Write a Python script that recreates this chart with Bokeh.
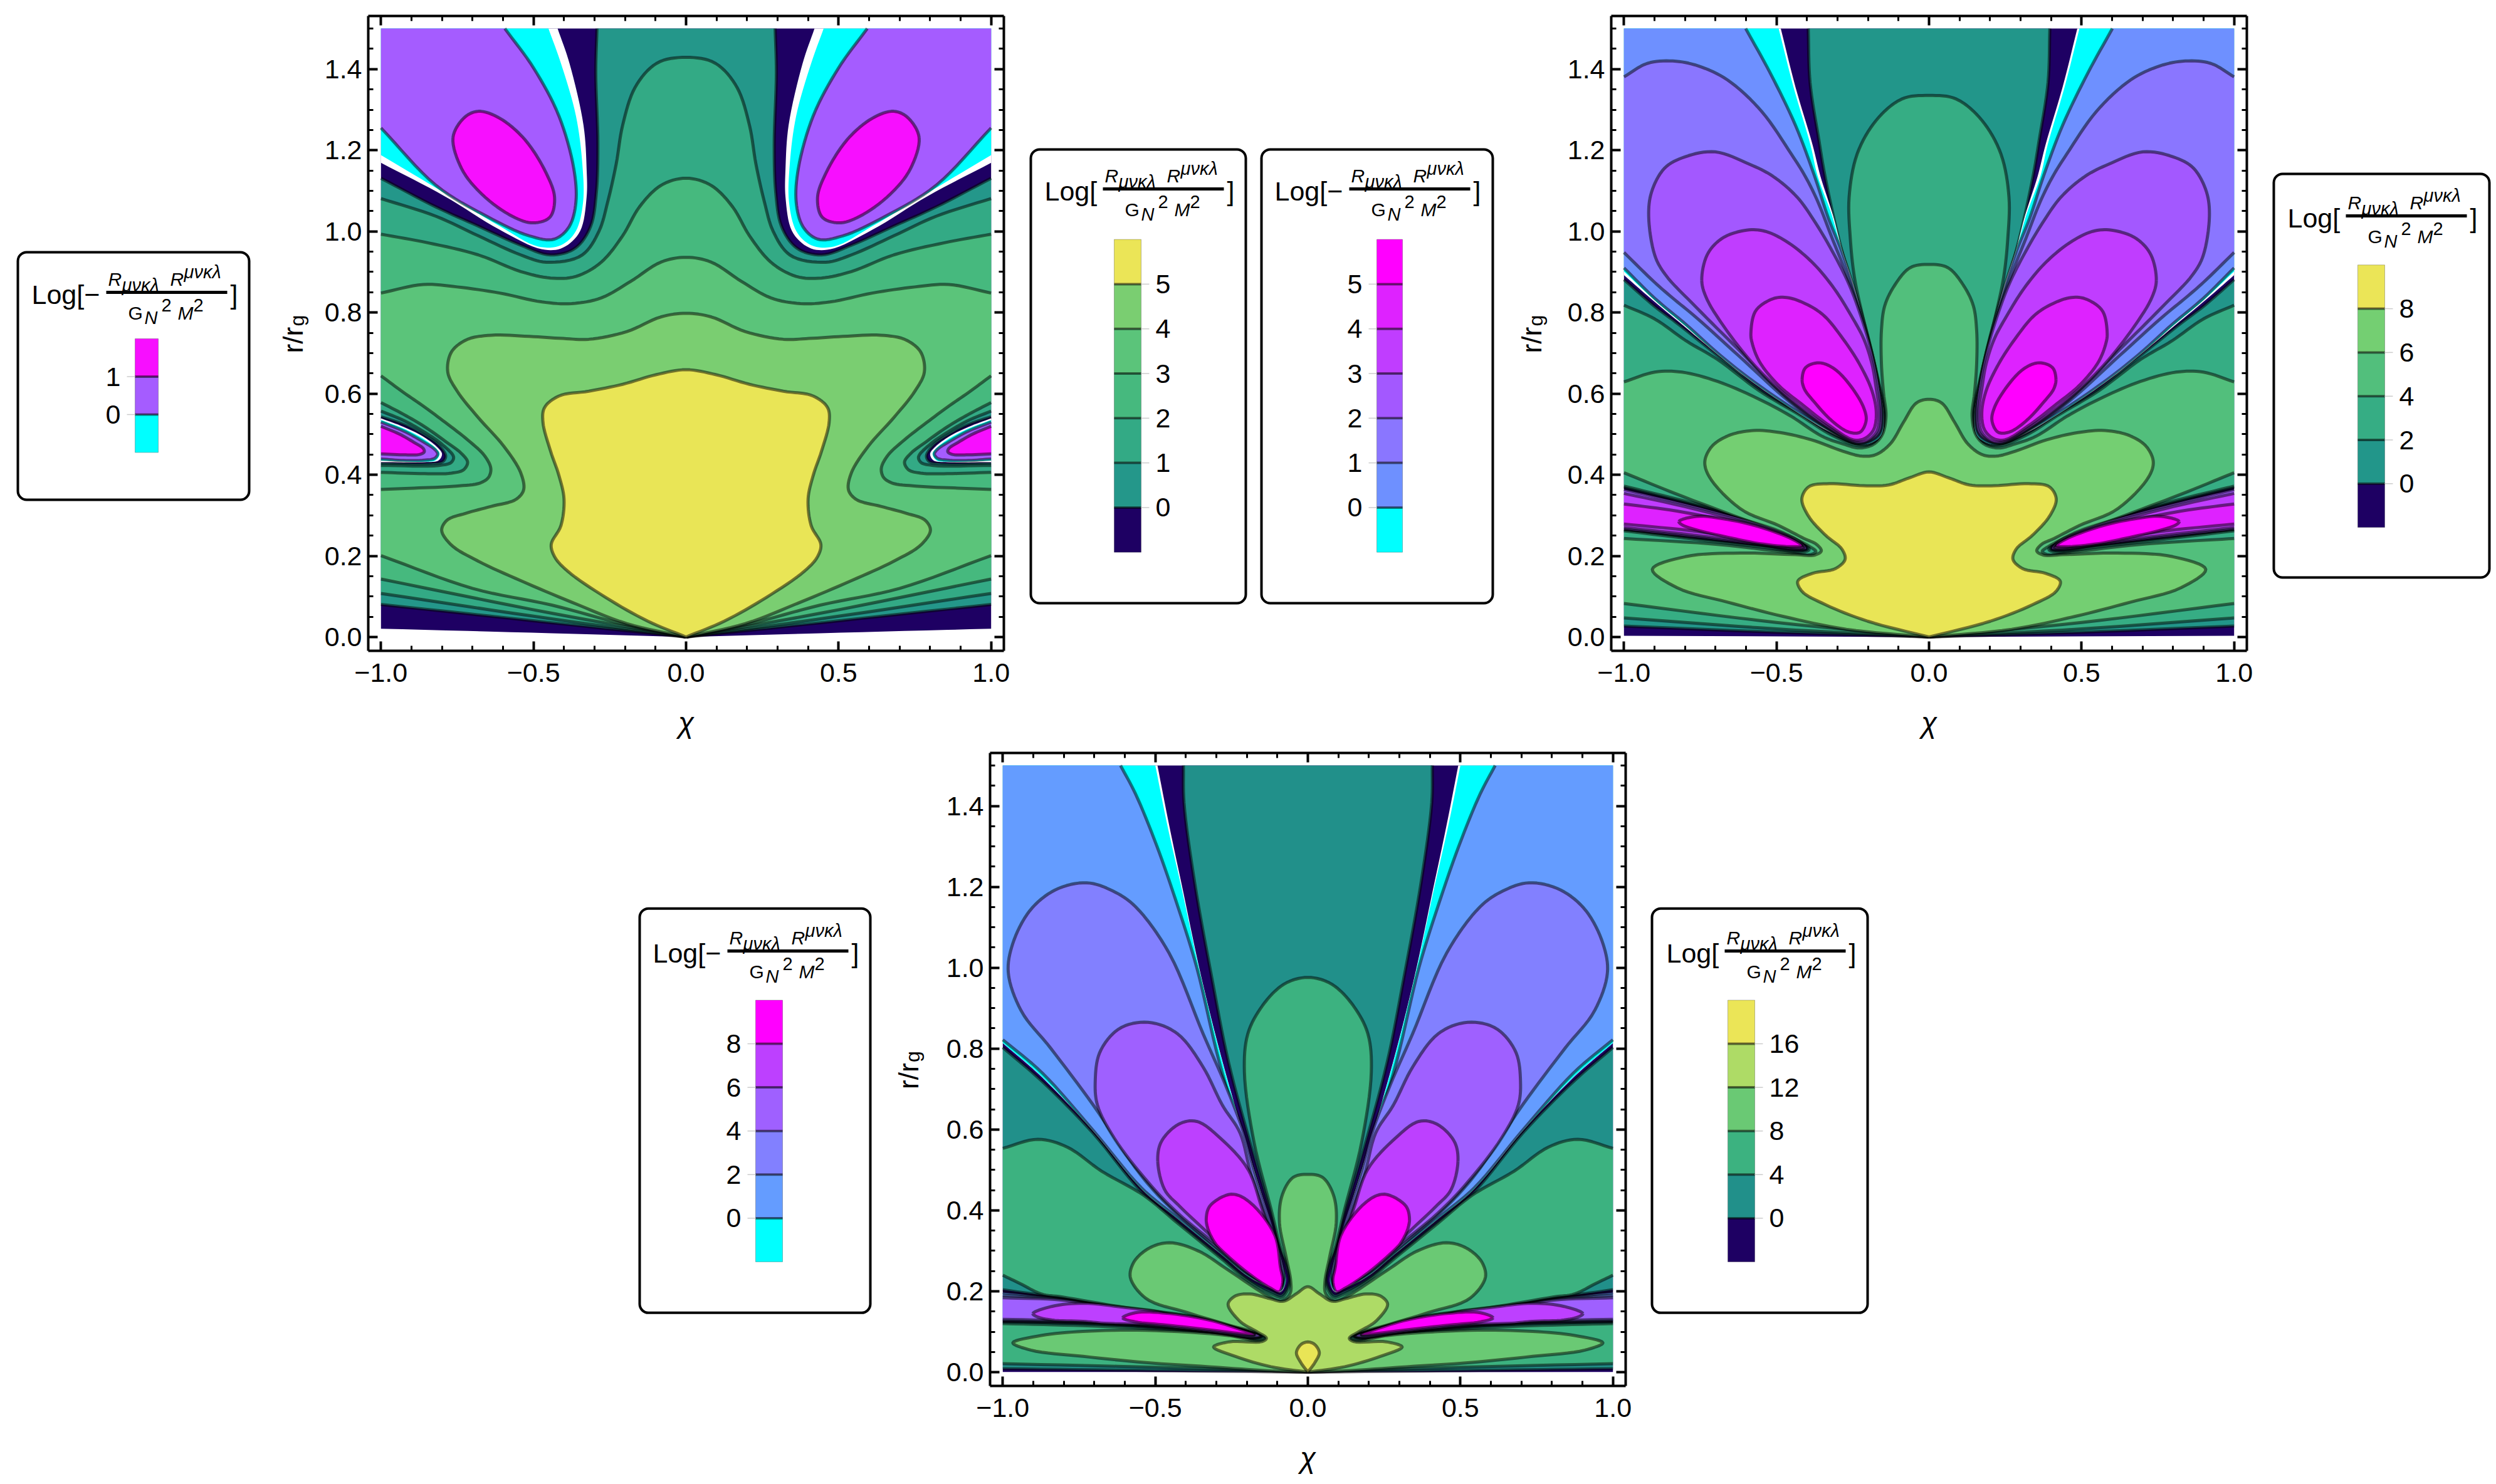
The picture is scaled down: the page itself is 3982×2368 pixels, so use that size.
from bokeh.plotting import figure
from bokeh.layouts import column, row
from bokeh.models import (Range1d, LinearAxis, FixedTicker, BoxAnnotation, Spacer)
from bokeh.core.properties import value
from bokeh.embed import file_html
from bokeh.resources import INLINE
import math

FONT = "Liberation Sans"
NAVY = "#1e0063"; CYAN = "#00ffff"; MAG = "#ff00ff"; YEL = "#ebe557"

# ---------- axis ticks ----------
X_TICKS = [-1.0, -0.5, 0.0, 0.5, 1.0]
X_LABELS = ["\u22121.0", "\u22120.5", "0.0", "0.5", "1.0"]
X_MINOR = [-0.9, -0.8, -0.7, -0.6, -0.4, -0.3, -0.2, -0.1, 0.1, 0.2, 0.3, 0.4, 0.6, 0.7, 0.8, 0.9]
Y_TICKS = [0.0, 0.2, 0.4, 0.6, 0.8, 1.0, 1.2, 1.4]
Y_LABELS = ["0.0", "0.2", "0.4", "0.6", "0.8", "1.0", "1.2", "1.4"]
Y_MINOR = [0.05, 0.1, 0.15, 0.25, 0.3, 0.35, 0.45, 0.5, 0.55, 0.65, 0.7, 0.75, 0.85, 0.9, 0.95,
           1.05, 1.1, 1.15, 1.25, 1.3, 1.35, 1.45, 1.5]

# ---------- panel 1 contours (left half, x<0) ----------
P1_BASE = [(-1,1.5),(-1,.0206),(-.44,.0093),(0,0)]
P1_POS0 = [(-.292,1.5),(-.296,1.391),(-.289,1.214),(-.294,1.096),(-.3125,1.013),(-.361,.96),(-.444,.942),(-.542,.966),
           (-.681,1.013),(-.819,1.06),(-1,1.131),(-1,.543),(-.926,.524),(-.864,.5),(-.81,.472),(-.788,.4465),(-.796,.4335),
           (-.837,.428),(-1,.429),(-1,.0803),(-.44,.0353),(0,0)]
P1_POS1 = [(0,1.429),(-.097,1.414),(-.167,1.355),(-.208,1.261),(-.229,1.166),(-.257,1.072),(-.285,1.001),(-.34,.942),
           (-.458,.924),(-.542,.942),(-.681,.989),(-.819,1.037),(-1,1.081),(-1,.557),(-.926,.534),(-.864,.508),(-.803,.477),
           (-.762,.444),(-.769,.431),(-.81,.423),(-1,.423),(-1,.1074),(-.44,.0448),(0,0)]
P1_POS2 = [(0,1.131),(-.083,1.113),(-.153,1.06),(-.208,.989),(-.278,.924),(-.361,.889),(-.444,.885),(-.542,.901),
           (-.681,.942),(-.847,.972),(-1,.993),(-1,.578),(-.926,.549),(-.857,.5185),(-.789,.4825),(-.735,.4516),(-.716,.431),
           (-.728,.413),(-.769,.404),(-.857,.4027),(-1,.406),(-1,.1429),(-.44,.0586),(0,0)]
P1_POS3 = [(0,.936),(-.083,.924),(-.181,.877),(-.278,.836),(-.375,.822),(-.472,.826),(-.611,.848),(-.75,.863),
           (-.861,.869),(-1,.848),(-1,.644),(-.926,.603),(-.857,.567),(-.789,.529),(-.714,.485),(-.66,.4465),(-.64,.416),
           (-.646,.395),(-.674,.38),(-.754,.372),(-.892,.367),(-1,.364),(-1,.2007),(-.7,.12),(-.44,.0787),(-.2,.031),(0,0)]
P1_POS4 = [(0,.798),(-.083,.789),(-.194,.753),(-.319,.734),(-.403,.736),(-.514,.741),(-.639,.744),(-.722,.732),
           (-.771,.7),(-.781,.653),(-.75,.606),(-.681,.541),(-.597,.47),(-.542,.405),(-.532,.364),(-.556,.34),(-.639,.322),
           (-.722,.305),(-.785,.287),(-.801,.263),(-.771,.228),(-.681,.187),(-.542,.139),(-.375,.086),(-.194,.033),(0,0)]
P1_POS5 = [(0,.659),(-.097,.647),(-.208,.623),(-.319,.606),(-.417,.594),(-.465,.564),(-.469,.529),(-.444,.458),
           (-.417,.399),(-.4,.34),(-.41,.275),(-.442,.228),(-.431,.198),(-.389,.163),(-.264,.098),(-.125,.039),(0,0)]
P1_WHITE = [(-1,1.5),(-.421,1.5),(-.382,1.414),(-.336,1.261),(-.326,1.155),(-.326,1.084),(-.347,1.001),(-.403,.96),
            (-.472,.956),(-.611,1.004),(-.792,1.087),(-1,1.169)]
P1_CYAN = [(-1,1.5),(-.451,1.5),(-.41,1.414),(-.361,1.285),(-.34,1.166),(-.3375,1.072),(-.361,1.001),(-.41,.966),
           (-.486,.963),(-.611,1.013),(-.819,1.107),(-1,1.188)]
P1_PURPLE = [(-1,1.5),(-.594,1.5),(-.5,1.403),(-.417,1.285),(-.368,1.155),(-.361,1.072),(-.382,1.013),(-.431,.981),
             (-.514,.989),(-.653,1.037),(-.819,1.113),(-1,1.255)]
P1_MAGENTA = [(-.764,1.231),(-.729,1.279),(-.681,1.296),(-.611,1.279),(-.528,1.226),(-.458,1.143),(-.431,1.084),
              (-.444,1.037),(-.5,1.021),(-.569,1.037),(-.667,1.09),(-.736,1.155)]
P1_SIDE_WHITE = [(-1,.539),(-.926,.518),(-.864,.495),(-.817,.469),(-.8,.4515),(-.81,.436),(-.857,.4311),(-1,.4311)]
P1_SIDE_CYAN = [(-1,.535),(-.926,.514),(-.864,.49),(-.82,.465),(-.808,.4515),(-.82,.436),(-.857,.4321),(-1,.435)]
P1_SIDE_PURPLE = [(-1,.53),(-.926,.508),(-.864,.4825),(-.823,.462),(-.814,.4515),(-.823,.441),(-.857,.436),(-.926,.4352),(-1,.4388)]
P1_SIDE_MAGENTA = [(-1,.5196),(-.94,.5005),(-.892,.48),(-.861,.4645),(-.858,.4568),(-.871,.4506),(-.919,.449),(-1,.4516)]

# ---------- panel 2 contours ----------
P2_BASE = [(-1,1.5),(-1,.003),(0,0)]
P2_POS0 = [(-.396,1.5),(-.39,1.367),(-.361,1.225),(-.341,1.136),(-.296,.982),(-.248,.853),(-.207,.745),(-.173,.643),
           (-.148,.555),(-.154,.5),(-.19,.478),(-.235,.475),(-.33,.505),(-.454,.563),(-.556,.612),(-.693,.694),(-.83,.776),
           (-.899,.815),(-1,.881),
           (-1,.369),(-.826,.3365),(-.618,.295),(-.479,.26),(-.414,.2326),(-.399,.217),(-.421,.2125),(-.549,.224),
           (-.757,.243),(-1,.2645),(-1,.0272),(-.5,.012),(0,0)]
P2_POS2 = [(0,1.335),(-.09,1.326),(-.174,1.273),(-.236,1.19),(-.262,1.084),(-.258,.982),(-.245,.889),(-.221,.802),
           (-.187,.699),(-.166,.632),(-.144,.555),(-.149,.504),(-.173,.48),(-.228,.472),(-.317,.497),(-.419,.545),
           (-.556,.607),(-.693,.684),(-.796,.73),(-.899,.784),(-1,.818),
           (-1,.372),(-.826,.34),(-.618,.2987),(-.479,.2633),(-.41,.2338),(-.393,.216),
           (-.417,.209),(-.549,.222),(-.757,.2397),(-1,.262),(-1,.047),(-.5,.02),(0,0)]
P2_POS4 = [(0,.9185),(-.063,.91),(-.111,.869),(-.145,.817),(-.156,.756),(-.156,.673),(-.149,.601),(-.141,.545),
           (-.152,.501),(-.18,.476),(-.228,.466),(-.282,.476),(-.351,.495),(-.454,.545),(-.57,.591),(-.693,.63),
           (-.81,.653),(-.899,.653),(-1,.629),
           (-1,.405),(-.826,.352),(-.618,.293),(-.451,.2456),(-.389,.222),(-.371,.211),(-.389,.203),(-.479,.21),
           (-.687,.228),(-1,.243),(-1,.0826),(-.5,.036),(0,0)]
P2_POS6 = [(0,.586),(-.043,.576),(-.084,.529),(-.125,.478),(-.173,.45),(-.221,.446),(-.282,.458),(-.385,.486),
           (-.488,.504),(-.577,.509),(-.659,.496),(-.714,.468),(-.735,.432),(-.721,.396),(-.618,.316),(-.493,.275),
           (-.41,.243),(-.368,.228),(-.353,.2125),(-.375,.202),(-.4375,.203),(-.618,.207),(-.799,.198),(-.907,.1665),
           (-.826,.1216),(-.66,.086),(-.479,.051),(-.271,.019),(0,0)]
P2_POS8 = [(0,.407),(-.0625,.393),(-.132,.375),(-.215,.373),(-.326,.378),(-.396,.3695),(-.417,.34),(-.396,.299),
           (-.34,.2515),(-.285,.216),(-.275,.192),(-.306,.169),(-.382,.157),(-.4305,.137),(-.417,.113),(-.34,.08),
           (-.201,.039),(0,0)]
P2_WHITE = [(-1,1.5),(-.486,1.5),(-.4375,1.355),(-.382,1.214),(-.356,1.136),(-.315,1.04),(-.287,.96),(-.24,.85),(-.203,.74),
            (-.171,.64),(-.149,.555),(-.155,.5),(-.191,.478),(-.237,.476),(-.33,.507),(-.454,.564),(-.59,.634),(-.693,.696),
            (-.796,.762),(-.899,.826),(-1,.892)]
P2_CYAN = [(-1,1.5),(-.493,1.5),(-.444,1.355),(-.389,1.214),(-.365,1.136),(-.32,1.043),(-.289,.961),(-.243,.85),(-.203,.742),
           (-.17,.639),(-.15,.555),(-.156,.5),(-.193,.478),(-.24,.476),(-.33,.509),(-.454,.565),(-.59,.636),(-.693,.698),
           (-.796,.765),(-.899,.83),(-1,.901)]
P2_NEG0 = [(-1,1.5),(-.601,1.5),(-.521,1.391),(-.4375,1.261),(-.375,1.136),(-.33,1.033),(-.289,.956),(-.241,.848),(-.2,.74),
           (-.169,.637),(-.151,.555),(-.158,.502),(-.195,.48),(-.241,.477),(-.33,.511),(-.454,.567),(-.59,.638),(-.693,.7),
           (-.796,.77),(-.899,.835),(-1,.91)]
P2_NEG1 = [(-1,1.381),(-.924,1.414),(-.84,1.42),(-.757,1.408),(-.66,1.373),(-.549,1.296),(-.451,1.19),(-.406,1.136),(-.365,1.074),
           (-.317,.982),(-.276,.905),(-.235,.817),(-.2,.725),(-.173,.632),(-.154,.555),(-.161,.504),(-.197,.482),(-.241,.478),
           (-.33,.513),(-.454,.578),(-.625,.694),(-.762,.787),(-.844,.838),(-.899,.874),(-1,.948)]
P2_NEG2 = [(-.919,1.037),(-.91,1.096),(-.868,1.155),(-.799,1.184),(-.701,1.196),(-.59,1.166),(-.512,1.136),(-.433,1.085),
           (-.378,1.028),(-.317,.951),(-.262,.869),(-.221,.786),(-.187,.699),(-.166,.622),(-.156,.555),(-.163,.506),(-.2,.483),
           (-.241,.479),(-.33,.515),(-.454,.582),(-.625,.709),(-.762,.812),(-.865,.894),(-.899,.941)]
P2_NEG3 = [(-.745,.879),(-.728,.941),(-.68,.982),(-.598,1.003),(-.536,1.0),(-.461,.972),(-.378,.92),(-.31,.858),(-.255,.792),
           (-.214,.735),(-.187,.673),(-.173,.612),(-.163,.555),(-.17,.509),(-.2,.485),(-.241,.481),(-.33,.517),(-.454,.586),
           (-.57,.668),(-.673,.766),(-.731,.838)]
P2_NEG4 = [(-.584,.748),(-.57,.802),(-.515,.833),(-.467,.837),(-.406,.822),(-.344,.792),(-.282,.735),(-.228,.673),(-.187,.607),
           (-.173,.555),(-.18,.514),(-.207,.491),(-.248,.486),(-.324,.52),(-.419,.575),(-.495,.622),(-.556,.679),(-.58,.725)]
P2_NEG5 = [(-.416,.635),(-.406,.663),(-.361,.676),(-.31,.661),(-.255,.617),(-.214,.565),(-.206,.535),(-.224,.506),(-.262,.505),
           (-.317,.532),(-.378,.581),(-.409,.612)]
P2_LOW0 = [(-1,.3636),(-.826,.333),(-.618,.2916),(-.479,.2574),(-.417,.2314),(-.403,.2184),(-.424,.215),(-.549,.2267),(-.757,.2456),(-1,.2656)]
P2_LOW1 = [(-1,.354),(-.826,.326),(-.618,.2857),(-.479,.2538),(-.424,.23),(-.41,.2196),(-.431,.2172),(-.549,.23),(-.757,.25),(-1,.27)]
P2_LOW2 = [(-1,.328),(-.826,.3105),(-.618,.2786),(-.479,.25),(-.428,.23),(-.414,.2208),(-.4375,.2196),(-.549,.236),(-.757,.26),(-1,.2786)]
P2_LOW3 = [(-.82,.2845),(-.7617,.2974),(-.659,.2895),(-.5565,.2716),(-.4466,.2407),(-.417,.2255),(-.4466,.2227),
           (-.5565,.2304),(-.659,.2459),(-.7617,.2639),(-.81,.2767)]

# ---------- panel 3 contours ----------
P3_BASE = [(-1,1.5),(-1,.0005),(0,0)]
P3_POS0 = [(-.408,1.5),(-.406,1.408),(-.371,1.21),(-.315,.976),(-.26,.766),(-.176,.532),(-.107,.357),(-.072,.264),
           (-.0625,.223),(-.086,.1915),(-.114,.198),(-.196,.2306),(-.285,.2856),(-.426,.372),(-.546,.447),(-.704,.591),
           (-.871,.719),(-1,.803),(-1,.2037),(-.806,.183),(-.6,.157),(-.395,.137),(-.258,.116),(-.165,.094),(-.152,.087),
           (-.185,.083),(-.324,.097),(-.531,.112),(-.737,.12),(-1,.124),(-1,.0088),(-.5,.004),(0,0)]
P3_POS4 = [(0,.976),(-.079,.959),(-.149,.906),(-.197,.836),(-.208,.743),(-.176,.567),(-.121,.404),(-.086,.299),
           (-.064,.258),(-.058,.223),(-.083,.1857),(-.114,.1915),(-.196,.2266),(-.285,.2816),(-.426,.368),(-.5375,.437),
           (-.676,.497),(-.7875,.556),(-.885,.5757),(-1,.5535),(-1,.2397),(-.943,.219),(-.874,.1934),(-.806,.186),
           (-.6,.16),(-.395,.14),(-.258,.119),(-.16,.097),(-.145,.087),(-.18,.079),(-.324,.094),(-.531,.108),(-.737,.115),
           (-1,.12),(-1,.021),(-.5,.012),(0,0)]
P3_POS8 = [(0,.489),(-.051,.48),(-.086,.433),(-.093,.369),(-.072,.287),(-.056,.224),(-.058,.195),(-.086,.176),
           (-.125,.186),(-.26,.252),(-.357,.299),(-.454,.32),(-.524,.305),(-.572,.27),(-.582,.2347),(-.532,.1832),
           (-.395,.1474),(-.258,.1162),(-.162,.0955),(-.138,.0843),(-.158,.0772),(-.258,.0905),(-.531,.1034),(-.737,.1008),
           (-.874,.0906),(-.967,.0725),(-.908,.0545),(-.737,.0391),(-.531,.0237),(-.3245,.0134),(-.119,.003),(0,0)]
P3_POS12 = [(0,.2114),(-.0375,.194),(-.0796,.1754),(-.125,.182),(-.19,.1934),(-.24,.1875),(-.2615,.1677),(-.2237,.1265),
            (-.169,.1008),(-.136,.084),(-.149,.076),(-.258,.075),(-.309,.0622),(-.2375,.039),(-.121,.0135),(0,0)]
P3_POS16 = [(0,.0747),(-.0236,.0677),(-.0375,.048),(-.0236,.0245),(0,0)]
P3_WHITE = [(-1,1.5),(-.493,1.5),(-.454,1.35),(-.412,1.2),(-.349,.976),(-.279,.766),(-.189,.532),(-.117,.357),(-.082,.264),
            (-.072,.225),(-.089,.198),(-.115,.205),(-.196,.2366),(-.285,.2916),(-.426,.378),(-.546,.453),(-.704,.596),(-.871,.729),(-1,.8135)]
P3_CYAN = [(-1,1.5),(-.5,1.5),(-.46,1.35),(-.415,1.2),(-.35,.976),(-.28,.766),(-.19,.532),(-.118,.357),(-.083,.264),
           (-.073,.225),(-.09,.2),(-.115,.207),(-.196,.2376),(-.285,.2926),(-.426,.379),(-.546,.454),(-.704,.597),(-.871,.73),(-1,.814)]
P3_NEG0 = [(-1,1.5),(-.614,1.5),(-.565,1.43),(-.496,1.303),(-.426,1.151),(-.364,1.0),(-.29,.766),(-.197,.532),(-.122,.357),
           (-.086,.264),(-.076,.2265),(-.09,.2055),(-.115,.209),(-.196,.2396),(-.285,.2946),(-.426,.381),(-.546,.456),(-.704,.598),(-.871,.74),(-1,.822)]
P3_NEG2 = [(-.982,.988),(-.968,1.058),(-.9125,1.14),(-.829,1.192),(-.725,1.21),(-.64,1.19),(-.565,1.151),(-.454,1.035),(-.343,.836),
           (-.27,.71),(-.21,.591),(-.172,.486),(-.118,.363),(-.08,.252),(-.08,.229),(-.093,.2113),(-.116,.214),(-.196,.2436),
           (-.285,.2986),(-.426,.39),(-.5,.445),(-.565,.505),(-.704,.661),(-.843,.801),(-.94,.894)]
P3_NEG4 = [(-.697,.719),(-.683,.789),(-.621,.848),(-.524,.865),(-.426,.836),(-.343,.754),(-.28,.66),(-.222,.591),(-.185,.486),(-.128,.363),
           (-.09,.252),(-.085,.217),(-.109,.2195),(-.196,.2516),(-.285,.3066),(-.426,.393),(-.524,.47),(-.635,.579),(-.69,.661)]
P3_NEG6 = [(-.492,.521),(-.482,.5675),(-.426,.612),(-.364,.62),(-.2875,.579),(-.195,.5),(-.15,.404),(-.108,.311),(-.088,.24),
           (-.086,.2137),(-.11,.223),(-.196,.2566),(-.285,.3136),(-.343,.355),(-.42,.41),(-.47,.452)]
P3_NEG8 = [(-.333,.381),(-.322,.41),(-.2514,.44),(-.19,.42),(-.108,.338),(-.09,.26),(-.082,.225),(-.093,.199),(-.125,.209),
           (-.196,.245),(-.285,.303),(-.305,.32),(-.328,.355)]
P3_LOW0 = [(-1,.197),(-.806,.181),(-.6,.155),(-.395,.135),(-.258,.114),(-.168,.093),(-.155,.088),(-.187,.0855),(-.324,.0995),(-.531,.114),(-.737,.122),(-1,.1265)]
P3_LOW2 = [(-1,.19),(-.806,.18),(-.6,.154),(-.395,.134),(-.258,.113),(-.169,.0935),(-.158,.089),(-.188,.0865),(-.324,.101),(-.531,.116),(-.737,.124),(-1,.128)]
P3_LOW4 = [(-1,.184),(-.806,.1782),(-.6,.152),(-.395,.1316),(-.258,.1116),(-.17,.094),(-.16,.09),(-.19,.088),(-.324,.1034),(-.531,.1186),(-.737,.1263),(-1,.1307)]
P3_LOW6 = [(-.9016,.1446),(-.84,.1625),(-.737,.1703),(-.6,.1601),(-.49,.1497),(-.395,.1305),(-.258,.1086),(-.19,.0956),(-.176,.0919),
           (-.2,.0914),(-.395,.107),(-.531,.1173),(-.668,.121),(-.737,.1257),(-.84,.129),(-.888,.1372)]
P3_LOW8 = [(-.607,.1343),(-.566,.1469),(-.463,.1458),(-.324,.1291),(-.2237,.1063),(-.176,.0931),(-.187,.0926),(-.324,.1049),(-.463,.1165),(-.566,.1245)]

# ---------- colour-key levels ----------
KEY1_LEVELS = [-1, 0, 1, 2]
KEY1_COLORS = [CYAN, "#a55cff", "#f70fff"]
KEY1_TICKS = [0, 1]
KEY2_LEVELS = [-1, 0, 1, 2, 3, 4, 5, 6]
KEY2_COLORS = [NAVY, "#24978a", "#33aa85", "#46b97e", "#5bc47a", "#7ace71", YEL]
KEY2_TICKS = [0, 1, 2, 3, 4, 5]
KEY3_LEVELS = [-1, 0, 1, 2, 3, 4, 5, 6]
KEY3_COLORS = [CYAN, "#6e90ff", "#8a76ff", "#a358ff", "#c03dff", "#de22ff", MAG]
KEY3_TICKS = [0, 1, 2, 3, 4, 5]
KEY4_LEVELS = [-2, 0, 2, 4, 6, 8, 10]
KEY4_COLORS = [NAVY, "#22968a", "#36ad84", "#52bf7c", "#74cf72", YEL]
KEY4_TICKS = [0, 2, 4, 6, 8]
KEY5_LEVELS = [-2, 0, 2, 4, 6, 8, 10]
KEY5_COLORS = [CYAN, "#649cff", "#8280ff", "#9f60ff", "#bd40ff", MAG]
KEY5_TICKS = [0, 2, 4, 6, 8]
KEY6_LEVELS = [-4, 0, 4, 8, 12, 16, 20]
KEY6_COLORS = [NAVY, "#21908a", "#3cb280", "#6ac974", "#aedb66", YEL]
KEY6_TICKS = [0, 4, 8, 12, 16]

# ---------- drawing helpers ----------
def is_pin(q):
    return abs(q[0]) >= 1 or q[1] >= 1.5 or (q[0] == 0 and q[1] == 0)

def cr(p0, p1, p2, p3, n=8):
    def tj(t, a, b):
        return t + max(math.hypot(b[0]-a[0], b[1]-a[1]), 1e-6) ** 0.5
    t0 = 0.0; t1 = tj(t0, p0, p1); t2 = tj(t1, p1, p2); t3 = tj(t2, p2, p3)
    out = []
    for i in range(n):
        t = t1 + (t2-t1)*i/n
        def L(a, b, ta, tb):
            w = (t-ta)/(tb-ta)
            return (a[0]*(1-w)+b[0]*w, a[1]*(1-w)+b[1]*w)
        a1 = L(p0, p1, t0, t1); a2 = L(p1, p2, t1, t2); a3 = L(p2, p3, t2, t3)
        b1 = L(a1, a2, t0, t2); b2 = L(a2, a3, t1, t3)
        out.append(L(b1, b2, t1, t2))
    return out

def open_curve(pts):
    if len(pts) < 3:
        return list(pts)
    a = (2*pts[0][0]-pts[1][0], 2*pts[0][1]-pts[1][1])
    b = (2*pts[-1][0]-pts[-2][0], 2*pts[-1][1]-pts[-2][1])
    ext = [a] + list(pts) + [b]
    out = []
    for i in range(1, len(ext)-2):
        out += cr(ext[i-1], ext[i], ext[i+1], ext[i+2])
    out.append(pts[-1])
    return out

def closed_curve(pts):
    n = len(pts); out = []
    for i in range(n):
        out += cr(pts[i-1], pts[i], pts[(i+1) % n], pts[(i+2) % n])
    return out

def same_edge(a, b):
    return (a[0] == b[0] and abs(a[0]) >= 1) or (a[1] == b[1] and a[1] >= 1.5)

def region(poly):
    pins = [i for i, q in enumerate(poly) if is_pin(q)]
    if not pins:
        c = closed_curve(poly)
        return c, [c + [c[0]]]
    rot = poly[pins[0]:] + poly[:pins[0]]
    rot.append(rot[0])
    idx = [i for i, q in enumerate(rot) if is_pin(q)]
    outline, runs = [], []
    for a, b in zip(idx[:-1], idx[1:]):
        sec = rot[a:b+1]
        cur = open_curve(sec)
        outline += cur[:-1]
        if not (len(sec) == 2 and same_edge(sec[0], sec[1])):
            runs.append(cur)
    return outline, runs

def mirror_join(left):
    return list(left) + [(-x, y) for x, y in reversed(left) if x != 0]

def flip(left):
    return [(-x, y) for x, y in left]

def draw_layers(p, layers):
    for pts, mode, color, stroke in layers:
        polys = [mirror_join(pts)] if mode == "joined" else [list(pts), flip(pts)]
        for poly in polys:
            outline, runs = region(poly)
            p.patch([q[0] for q in outline], [q[1] for q in outline], fill_color=color, line_color=None)
            if stroke:
                p.multi_line([[q[0] for q in r] for r in runs], [[q[1] for q in r] for r in runs],
                             line_color="black", line_alpha=0.5, line_width=5, line_join="round")

def panel(width, height, b_left, b_right, b_top, b_bottom, layers):
    p = figure(width=width, height=height, x_range=Range1d(-1.0417, 1.0417), y_range=Range1d(-0.034, 1.531),
               x_axis_type=None, y_axis_type=None, output_backend="svg", toolbar_location=None,
               min_border_left=b_left, min_border_right=b_right, min_border_top=b_top, min_border_bottom=b_bottom,
               outline_line_color=None, background_fill_color="white")
    p.grid.visible = False
    for side, ticks, minor, labels in (("below", X_TICKS, X_MINOR, X_LABELS), ("above", X_TICKS, X_MINOR, None),
                                       ("left", Y_TICKS, Y_MINOR, Y_LABELS), ("right", Y_TICKS, Y_MINOR, None)):
        ax = LinearAxis(ticker=FixedTicker(ticks=ticks, minor_ticks=minor))
        ax.axis_line_color = "black"; ax.axis_line_width = 4
        ax.major_tick_in = 15; ax.major_tick_out = 0; ax.minor_tick_in = 8; ax.minor_tick_out = 0
        ax.major_tick_line_color = "black"; ax.major_tick_line_width = 4
        ax.minor_tick_line_color = "black"; ax.minor_tick_line_width = 3
        if labels is None:
            ax.major_label_overrides = {t: "" for t in ticks}
            ax.major_label_standoff = 0
            ax.major_label_text_font_size = "1px"
        else:
            ax.major_label_overrides = dict(zip(ticks, labels))
            ax.major_label_text_font = FONT; ax.major_label_text_font_size = "43px"
            ax.major_label_text_color = "black"
            ax.major_label_standoff = 20 if side == "below" else 10
            if side == "below":
                ax.axis_label_text_font = FONT; ax.axis_label_text_color = "black"
                ax.axis_label_text_font_size = "46px"
                ax.axis_label = "\u03c7"; ax.axis_label_text_font_style = "italic"; ax.axis_label_standoff = 36
        p.add_layout(ax, side)
    draw_layers(p, layers)
    return p

def key_figure(xa, xb, ya, yb, b_top, b_bottom):
    p = figure(width=xb-xa, height=yb-ya, x_range=Range1d(xa, xb), y_range=Range1d(yb-b_bottom, ya+b_top),
               x_axis_type=None, y_axis_type=None, output_backend="svg", toolbar_location=None,
               min_border_left=0, min_border_right=0, min_border_top=b_top, min_border_bottom=b_bottom,
               outline_line_color=None)
    p.grid.visible = False
    return p

def txt(p, x, y, s, size, style="normal", rotated=False):
    # the text glyph sets its baseline about 0.3 em past the anchor, so the anchor is moved back
    drop = 0.3 * float(size[:-2])
    kw = {"angle": math.pi/2} if rotated else {}
    p.text(x=[x - drop if rotated else x], y=[y if rotated else y - drop], text=[s], text_font=value(FONT),
           text_font_size=value(size), text_font_style=style, text_color="black",
           text_baseline="alphabetic", text_align="left", **kw)

def side_label(p, anchor, frame_mid):
    txt(p, anchor-115, frame_mid+32, "r/r", "44px", rotated=True)
    txt(p, anchor-111.6, frame_mid-11, "g", "32px", rotated=True)

def key(p, name, box, bar, levels, colors, ticks, side, fx, fy, negative):
    ya, yb = p.y_range.end, p.y_range.start
    l, r, t, b = box
    p.add_layout(BoxAnnotation(left=l, right=r, top=t, bottom=b, fill_alpha=0, line_color="black", line_width=4,
                               line_alpha=1, border_radius=14))
    bl, br, p0, k = bar
    p.extra_y_ranges[name] = Range1d((p0-yb)/k, (p0-ya)/k)
    p.quad(left=[bl]*len(colors), right=[br]*len(colors), bottom=levels[:-1], top=levels[1:], fill_color=colors,
           line_color="black", line_alpha=0.25, line_width=1, y_range_name=name)
    p.segment(x0=[bl]*len(ticks), x1=[br]*len(ticks), y0=ticks, y1=ticks, line_color="black", line_alpha=0.5,
              line_width=4, y_range_name=name)
    if side == "left":
        tx0, tx1, lx, al = bl-13, bl, bl-23, "right"
    else:
        tx0, tx1, lx, al = br, br+13, br+23, "left"
    p.segment(x0=[tx0]*len(ticks), x1=[tx1]*len(ticks), y0=ticks, y1=ticks, line_color="#cccccc", line_width=1.5,
              y_range_name=name)
    p.text(x=[lx]*len(ticks), y=ticks, text=[str(t_) for t_ in ticks], y_range_name=name, text_font=value(FONT),
           text_font_size=value("43px"), text_color="black", text_baseline="middle", text_align=al)
    # title
    txt(p, fx-119 if negative else fx-93, fy+16, "Log[\u2212" if negative else "Log[", "43px")
    txt(p, fx+198, fy+16, "]", "43px")
    p.segment(x0=[fx], x1=[fx+193], y0=[fy], y1=[fy], line_color="black", line_width=5)
    txt(p, fx+3, fy-12, "R", "30px", "italic")
    txt(p, fx+25, fy-3, "\u03bc\u03bd\u03ba\u03bb", "29px", "italic")
    txt(p, fx+102, fy-12, "R", "30px", "italic")
    txt(p, fx+124, fy-24, "\u03bc\u03bd\u03ba\u03bb", "29px", "italic")
    txt(p, fx+35, fy+42, "G", "30px")
    txt(p, fx+61, fy+49, "N", "29px", "italic")
    txt(p, fx+88, fy+29, "2", "29px")
    txt(p, fx+114, fy+42, "M", "30px", "italic")
    txt(p, fx+139, fy+29, "2", "29px")

# ---------- build ----------
p1 = panel(1120, 1182, 87, 19, 17, 152, [
    (P1_BASE, "joined", NAVY, False), (P1_POS0, "joined", "#24978a", True), (P1_POS1, "joined", "#33aa85", True),
    (P1_POS2, "joined", "#46b97e", True), (P1_POS3, "joined", "#5bc47a", True), (P1_POS4, "joined", "#7ace71", True),
    (P1_POS5, "joined", "#e9e556", True),
    (P1_WHITE, "pair", "white", False), (P1_CYAN, "pair", CYAN, False), (P1_PURPLE, "pair", "#a55cff", True),
    (P1_MAGENTA, "pair", "#f70fff", True),
    (P1_SIDE_WHITE, "pair", "white", False), (P1_SIDE_CYAN, "pair", CYAN, False), (P1_SIDE_PURPLE, "pair", "#a55cff", True),
    (P1_SIDE_MAGENTA, "pair", "#f70fff", True)])

p2 = panel(1119, 1182, 85, 20, 17, 152, [
    (P2_BASE, "joined", NAVY, False), (P2_POS0, "joined", "#22968a", True), (P2_POS2, "joined", "#36ad84", True),
    (P2_POS4, "joined", "#52bf7c", True), (P2_POS6, "joined", "#74cf72", True), (P2_POS8, "joined", "#e9e556", True),
    (P2_WHITE, "pair", "white", False), (P2_CYAN, "pair", CYAN, False), (P2_NEG0, "pair", "#6e90ff", True),
    (P2_NEG1, "pair", "#8a76ff", True), (P2_NEG2, "pair", "#a358ff", True), (P2_NEG3, "pair", "#c03dff", True),
    (P2_NEG4, "pair", "#de22ff", True), (P2_NEG5, "pair", MAG, True),
    (P2_LOW0, "pair", "#a358ff", True), (P2_LOW1, "pair", "#c03dff", True), (P2_LOW2, "pair", "#de22ff", True),
    (P2_LOW3, "pair", MAG, True)])

p3 = panel(1115, 1164, 84, 17, 11, 140, [
    (P3_BASE, "joined", NAVY, False), (P3_POS0, "joined", "#21908a", True), (P3_POS4, "joined", "#3cb280", True),
    (P3_POS8, "joined", "#6ac974", True), (P3_POS12, "joined", "#aedb66", True), (P3_POS16, "joined", "#e9e556", True),
    (P3_WHITE, "pair", "white", False), (P3_CYAN, "pair", CYAN, False), (P3_NEG0, "pair", "#649cff", True),
    (P3_NEG2, "pair", "#8280ff", True), (P3_NEG4, "pair", "#9f60ff", True), (P3_NEG6, "pair", "#bd40ff", True),
    (P3_NEG8, "pair", MAG, True),
    (P3_LOW0, "pair", "#649cff", True), (P3_LOW2, "pair", "#8280ff", True), (P3_LOW4, "pair", "#9f60ff", True),
    (P3_LOW6, "pair", "#bd40ff", True), (P3_LOW8, "pair", MAG, True)])

fa = key_figure(8, 500, 8, 1190, 17, 152)
key(fa, "v1", (28, 397, 402, 797), (215, 252, 661, 60.5), KEY1_LEVELS, KEY1_COLORS, KEY1_TICKS, "left", 169, 466, True)
side_label(fa, 595, 531)
fb = key_figure(1620, 2485, 8, 1190, 17, 152)
key(fb, "v2", (1644, 1987, 238, 962), (1777, 1820, 809.4, 71.3), KEY2_LEVELS, KEY2_COLORS, KEY2_TICKS, "right", 1759, 301, False)
key(fb, "v3", (2012, 2381, 238, 962), (2196, 2237, 809.4, 71.3), KEY3_LEVELS, KEY3_COLORS, KEY3_TICKS, "left", 2152, 301, True)
side_label(fb, 2571, 531)
fc = key_figure(3604, 3974, 8, 1190, 17, 152)
key(fc, "v4", (3627, 3971, 277, 921), (3761, 3804, 771.3, 34.9), KEY4_LEVELS, KEY4_COLORS, KEY4_TICKS, "right", 3742, 344, False)
fd = key_figure(1000, 1495, 1190, 2354, 11, 140)
key(fd, "v5", (1020, 1388, 1450, 2097), (1205, 1248, 1945.6, 34.9), KEY5_LEVELS, KEY5_COLORS, KEY5_TICKS, "left", 1160, 1518, True)
side_label(fd, 1577, 1707)
fe = key_figure(2610, 3000, 1190, 2354, 11, 140)
key(fe, "v6", (2635, 2979, 1450, 2097), (2756, 2799, 1945.6, 17.45), KEY6_LEVELS, KEY6_COLORS, KEY6_TICKS, "right", 2751, 1518, False)

layout = column(
    Spacer(width=10, height=8),
    row(Spacer(width=8, height=1), fa, p1, fb, p2, fc, spacing=0),
    row(Spacer(width=1000, height=1), fd, p3, fe, spacing=0),
    spacing=0)

open("out.html", "w").write(file_html(layout, INLINE))
